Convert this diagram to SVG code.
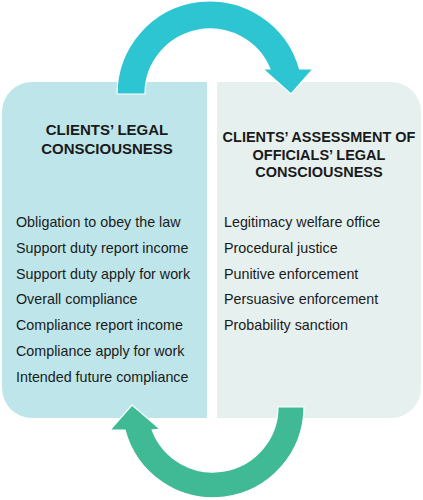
<svg xmlns="http://www.w3.org/2000/svg" width="423" height="500" viewBox="0 0 423 500">
<style>
.h{font-family:"Liberation Sans",Arial,sans-serif;font-weight:bold;fill:#1a1a1a;text-anchor:middle}
.t{font-family:"Liberation Sans",Arial,sans-serif;font-size:14.3px;fill:#1a1a1a}
.arr{stroke:#ffffff;stroke-width:1.2}
</style>
<rect x="0" y="0" width="423" height="500" fill="#ffffff"/>
<g id="left-node">
<path d="M2,112 A30,30 0 0 1 32,82 H207 V418 H32 A30,30 0 0 1 2,388 Z" fill="#bee6ea"/>
<text class="h" font-size="15" x="107" y="135">CLIENTS’ LEGAL</text>
<text class="h" font-size="15" x="107" y="153.5">CONSCIOUSNESS</text>
<text class="t" x="16" y="227">Obligation to obey the law</text>
<text class="t" x="16" y="252.8">Support duty report income</text>
<text class="t" x="16" y="278.6">Support duty apply for work</text>
<text class="t" x="16" y="304.4">Overall compliance</text>
<text class="t" x="16" y="330.2">Compliance report income</text>
<text class="t" x="16" y="356">Compliance apply for work</text>
<text class="t" x="16" y="381.8">Intended future compliance</text>
</g>
<g id="right-node">
<path d="M217,82 H391 A30,30 0 0 1 421,112 V388 A30,30 0 0 1 391,418 H217 Z" fill="#e6f1ef"/>
<text class="h" font-size="14.5" x="319" y="142">CLIENTS’ ASSESSMENT OF</text>
<text class="h" font-size="14.5" x="319" y="159.5">OFFICIALS’ LEGAL</text>
<text class="h" font-size="14.5" x="319" y="177">CONSCIOUSNESS</text>
<text class="t" x="224" y="227">Legitimacy welfare office</text>
<text class="t" x="224" y="252.8">Procedural justice</text>
<text class="t" x="224" y="278.6">Punitive enforcement</text>
<text class="t" x="224" y="304.4">Persuasive enforcement</text>
<text class="t" x="224" y="330.2">Probability sanction</text>
</g>
<g id="connectors">
<path class="arr" fill="#2ec5d2" d="M117,94 A93,93 0 0 1 299.6,69 L313,69 L291,94 L263,69 L270,69 A65,65 0 0 0 145,94 Z"/>
<path class="arr" fill="#3fba94" d="M304,407 A91,91 0 0 1 125,430 L110,430 L132,405 L160,429 L152.2,430 A65,65 0 0 0 278,407 Z"/>
</g>
</svg>
